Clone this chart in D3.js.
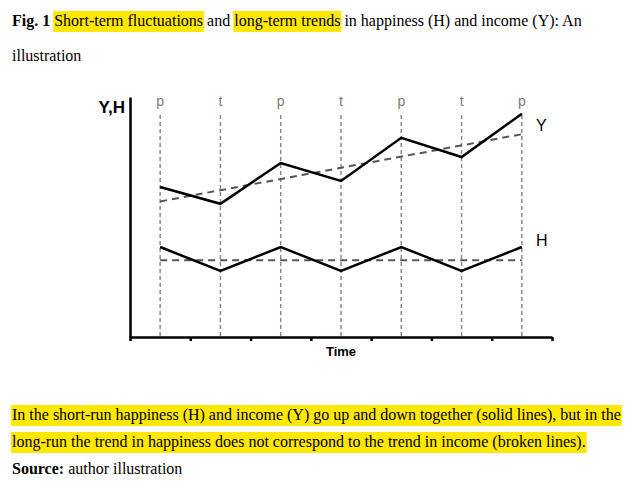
<!DOCTYPE html>
<html lang="en">
  <head>
    <meta charset="utf-8" />
    <title>Fig. 1</title>
    <script src="https://cdn.jsdelivr.net/npm/d3@7"></script>
    <style>
      body { margin: 0; background: #fff; }
      svg { display: block; }
    </style>
  </head>
  <body>
    <script>
      // data
      const periods = ["p", "t", "p", "t", "p", "t", "p"];
      const incomeY = [6.25, 5.55, 7.25, 6.5, 8.3, 7.5, 9.3];
      const happinessH = [3.75, 2.75, 3.75, 2.75, 3.75, 2.75, 3.75];
      const incomeTrend = [5.65, 8.45]; // first and last period
      const happinessTrend = [3.2, 3.2];
      const timeTicks = [0, 1, 2, 3, 4, 5, 6, 7];

      // text lines: [baseline, segments]
      const titleLines = [
        [26, [["Fig. 1", true, false], [" ", false, false], ["Short-term fluctuations", false, true],
              [" and ", false, false], ["long-term trends", false, true],
              [" in happiness (H) and income (Y): An", false, false]]],
        [61, [["illustration", false, false]]]
      ];
      const captionLines = [
        [420, [["In the short-run happiness (H) and income (Y) go up and down together (solid lines), but in the", false, true]]],
        [447, [["long-run the trend in happiness does not correspond to the trend in income (broken lines).", false, true]]],
        [474, [["Source:", true, false], [" author illustration", false, false]]]
      ];

      const W = 636, H = 494;
      const svg = d3.select("body").append("svg")
        .attr("width", W)
        .attr("height", H);

      // serif text with yellow highlights
      function drawLines(lines) {
        lines.forEach(function (line) {
          const base = line[0];
          let x = 12;
          line[1].forEach(function (seg) {
            const hl = svg.append("rect").attr("fill", "#ffe800");
            const t = svg.append("text")
              .attr("x", x)
              .attr("y", base)
              .attr("xml:space", "preserve")
              .attr("font-family", "'Liberation Serif', 'Times New Roman', serif")
              .attr("font-size", 16)
              .attr("font-weight", seg[1] ? "bold" : "normal")
              .attr("fill", "#000")
              .text(seg[0]);
            const w = t.node().getComputedTextLength();
            if (seg[2]) {
              hl.attr("x", x - 1).attr("y", base - 15).attr("width", w + 2).attr("height", 21);
            } else {
              hl.remove();
            }
            x += w;
          });
        });
      }
      drawLines(titleLines);
      drawLines(captionLines);

      // chart
      const x = d3.scaleLinear().domain([0, 7]).range([130, 552]);
      const y = d3.scaleLinear().domain([0, 10]).range([337, 97]);
      const px = function (i) { return x(i + 0.5); };
      const sans = "'Liberation Sans', Arial, sans-serif";

      // vertical period guides
      svg.selectAll("line.guide")
        .data(periods)
        .enter()
        .append("line")
        .attr("class", "guide")
        .attr("x1", function (d, i) { return px(i); })
        .attr("x2", function (d, i) { return px(i); })
        .attr("y1", 115)
        .attr("y2", y(0))
        .attr("stroke", "#8a8a8a")
        .attr("stroke-width", 1.5)
        .attr("stroke-dasharray", "4,3");

      svg.selectAll("text.period")
        .data(periods)
        .enter()
        .append("text")
        .attr("class", "period")
        .attr("x", function (d, i) { return px(i); })
        .attr("y", 106)
        .attr("text-anchor", "middle")
        .attr("font-family", sans)
        .attr("font-size", 14)
        .attr("fill", "#7a7a7a")
        .text(function (d) { return d; });

      // axes
      const xAxis = svg.append("g")
        .attr("transform", "translate(0," + y(0) + ")")
        .call(d3.axisBottom(x).tickValues(timeTicks).tickSizeInner(4).tickSizeOuter(0).tickFormat(""));
      xAxis.selectAll("path, line").attr("stroke", "#000").attr("stroke-width", 2.5);

      const yAxis = svg.append("g")
        .attr("transform", "translate(" + x(0) + ",0)")
        .call(d3.axisLeft(y).tickValues([]).tickSizeOuter(0));
      yAxis.selectAll("path").attr("stroke", "#000").attr("stroke-width", 2.5);

      // trend lines (broken)
      const trendLine = d3.line()
        .x(function (d, i) { return i === 0 ? px(0) : px(periods.length - 1); })
        .y(function (d) { return y(d); });
      [incomeTrend, happinessTrend].forEach(function (s) {
        svg.append("path")
          .attr("d", trendLine(s))
          .attr("fill", "none")
          .attr("stroke", "#555")
          .attr("stroke-width", 2)
          .attr("stroke-dasharray", "7,5");
      });

      // short-run series (solid)
      const line = d3.line()
        .x(function (d, i) { return px(i); })
        .y(function (d) { return y(d); });
      [incomeY, happinessH].forEach(function (s) {
        svg.append("path")
          .attr("d", line(s))
          .attr("fill", "none")
          .attr("stroke", "#000")
          .attr("stroke-width", 2.5)
          .attr("stroke-linejoin", "miter");
      });

      // labels
      svg.append("text")
        .attr("x", 125).attr("y", 113)
        .attr("text-anchor", "end")
        .attr("font-family", sans).attr("font-size", 17).attr("font-weight", "bold")
        .text("Y,H");
      svg.append("text")
        .attr("x", 341).attr("y", 356)
        .attr("text-anchor", "middle")
        .attr("font-family", sans).attr("font-size", 13).attr("font-weight", "bold")
        .text("Time");
      svg.append("text")
        .attr("x", 536).attr("y", 131)
        .attr("font-family", sans).attr("font-size", 16)
        .text("Y");
      svg.append("text")
        .attr("x", 536).attr("y", 245.5)
        .attr("font-family", sans).attr("font-size", 16)
        .text("H");
    </script>
  </body>
</html>
